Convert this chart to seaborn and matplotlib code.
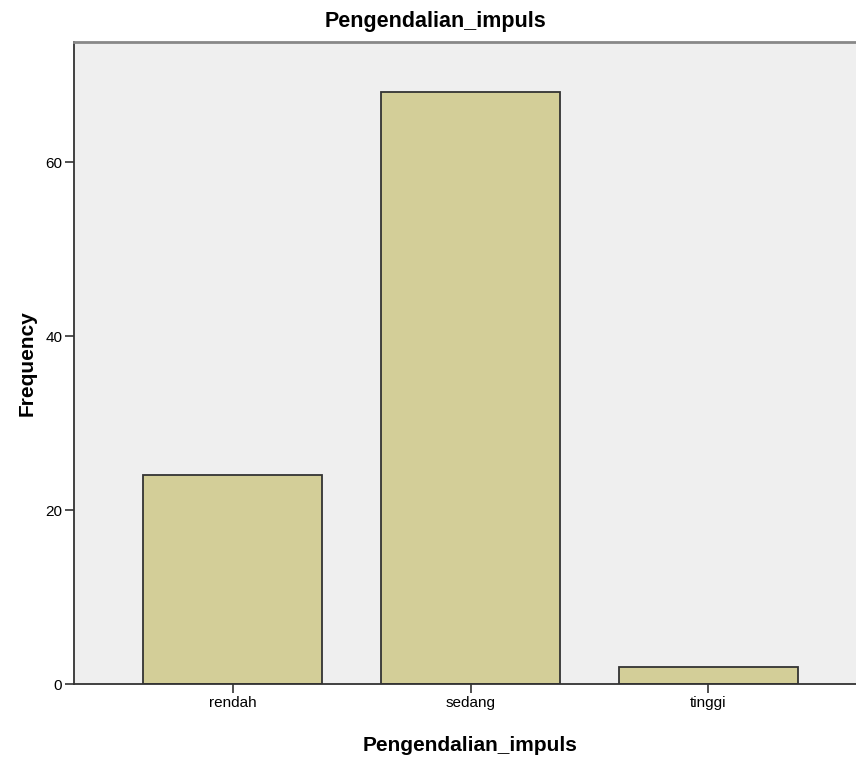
import pandas as pd
import matplotlib.pyplot as plt
import seaborn as sns

# data
categories = ["rendah", "sedang", "tinggi"]
frequency = [24, 68, 2]

df = pd.DataFrame({"Pengendalian_impuls": categories, "Frequency": frequency})

sns.set_style("white")
plt.rcParams["font.family"] = ["Liberation Sans", "DejaVu Sans"]
plt.rcParams["text.color"] = "black"
plt.rcParams["axes.labelcolor"] = "black"

fig = plt.figure(figsize=(8.56, 7.58), dpi=100)
ax = fig.add_axes([74 / 856, 74 / 758, (867 - 74) / 856, (684 - 42) / 758])
ax.set_facecolor("#EFEFEF")

sns.barplot(data=df, x="Pengendalian_impuls", y="Frequency", color="#D3CE98",
            saturation=1, edgecolor="#333333", linewidth=1.3, width=0.75, ax=ax)

ax.set_xlim(-0.666, 2.666)
ax.set_ylim(0, 73.8)
ax.set_yticks([0, 20, 40, 60])

for s in ["left", "bottom"]:
    ax.spines[s].set_color("#333333")
    ax.spines[s].set_linewidth(1.3)
ax.spines["top"].set_color("#888888")
ax.spines["top"].set_linewidth(2)
ax.spines["right"].set_visible(False)

ax.tick_params(axis="both", direction="out", length=6.5, width=1.2, color="#333333",
               labelsize=11, labelcolor="black", pad=2, left=True, bottom=True)

ax.set_xlabel("Pengendalian_impuls", fontsize=15, fontweight="bold", labelpad=19)
ax.set_ylabel("Frequency", fontsize=15, fontweight="bold", labelpad=6)

fig.text(435 / 856, 1 - 22 / 758, "Pengendalian_impuls", fontsize=15.5,
         fontweight="bold", ha="center", va="center")

fig.savefig("out.png", dpi=100)
